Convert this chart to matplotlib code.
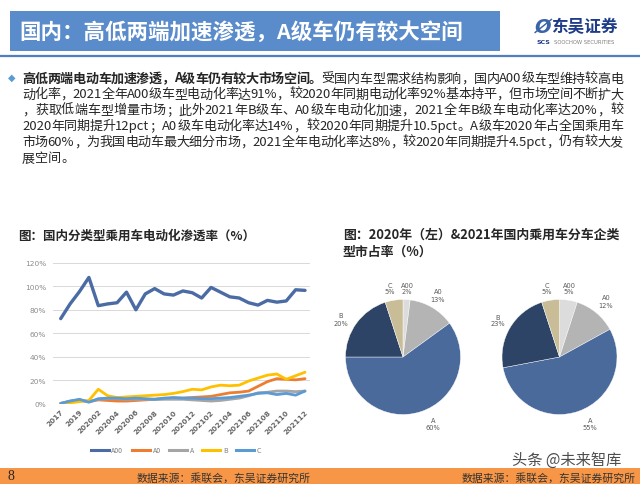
import matplotlib
matplotlib.use('Agg')
import matplotlib.pyplot as plt
from matplotlib.patches import Rectangle
from matplotlib.lines import Line2D

plt.rcParams['font.family'] = ['Noto Sans CJK SC', 'DejaVu Sans']

# ---------------- data ----------------
categories = ['2017', '2018', '2019',
              '202001', '202002', '202003', '202004', '202005', '202006',
              '202007', '202008', '202009', '202010', '202011', '202012',
              '202101', '202102', '202103', '202104', '202105', '202106',
              '202107', '202108', '202109', '202110', '202111', '202112']
series_names = ['A00', 'A0', 'A', 'B', 'C']
a00 = [72.5, 85, 95.5, 107.5, 83.5, 85, 86, 95, 80, 93.5, 98, 93.5, 92.5, 96,
       94.5, 90, 99, 95, 91, 90, 86, 84, 88, 86.5, 87.5, 97, 96.5]
a0 = [0.5, 2, 3, 2, 3.5, 3, 2.5, 2.5, 3, 3.5, 4, 4.5, 5, 5, 5.5, 6, 6.5, 8,
      9.5, 10, 11, 15, 19, 21.5, 21, 20.5, 21.5]
a_cls = [0.5, 2.5, 3.5, 2, 4, 4.5, 4.5, 4, 4, 4, 4, 4, 4, 4, 3.5, 3, 2.5, 3,
         4, 5, 7, 9.5, 10, 11, 11, 10.5, 11]
b_cls = [0.5, 1, 2, 3, 12.5, 7, 5.5, 6, 6.5, 7, 7.5, 8, 9, 10.5, 12.5, 12,
         14.5, 16, 15.5, 16, 19.5, 22, 24.5, 25.5, 21, 24, 27]
c_cls = [0.5, 2.5, 4, 1.5, 4.5, 5, 5, 4.5, 5, 4.5, 4, 5, 5.5, 5, 5, 4.5, 4.5,
         5, 5.5, 6.5, 7.5, 9, 9.5, 8, 9, 7.5, 11]
yticks = [0, 20, 40, 60, 80, 100, 120]

pie_labels = ['A00', 'A0', 'A', 'B', 'C']
share_2020 = [2, 13, 60, 20, 5]
share_2021 = [5, 12, 55, 23, 5]

title = '国内：高低两端加速渗透，A级车仍有较大空间'
body_bold = '高低两端电动车加速渗透，A级车仍有较大市场空间。'
body_lines = [
    '受国内车型需求结构影响，国内A00级车型维持较高电',
    '动化率，2021全年A00级车型电动化率达91%，较2020年同期电动化率92%基本持平，但市场空间不断扩大',
    '，获取低端车型增量市场；此外2021年B级车、A0级车电动化加速，2021全年B级车电动化率达20%，较',
    '2020年同期提升12pct；A0级车电动化率达14%，较2020年同期提升10.5pct。A级车2020年占全国乘用车',
    '市场60%，为我国电动车最大细分市场，2021全年电动化率达8%，较2020年同期提升4.5pct，仍有较大发',
    '展空间。',
]
chart1_title = '图：国内分类型乘用车电动化渗透率（%）'
chart2_title = ['图：2020年（左）&2021年国内乘用车分车企类', '型市占率（%）']
source = '数据来源：乘联会，东吴证券研究所'

# ---------------- styles ----------------
line_colors = ['#4A6BA3', '#ED7D31', '#A5A5A5', '#FFC000', '#5B9BD5']
pie_colors = ['#DCDCDC', '#B4B4B4', '#4A6A9C', '#2D4467', '#C9BD98']

W, H = 640, 485
fig = plt.figure(figsize=(6.4, 4.85), dpi=100)
ax0 = fig.add_axes([0, 0, 1, 1])
ax0.set_xlim(0, W)
ax0.set_ylim(0, H)
ax0.axis('off')


def Y(y):
    return H - y


def T(x, y, s, **kw):
    return ax0.text(x, Y(y), s, **kw)


# header
ax0.add_patch(Rectangle((10, Y(52)), 490, 40, color='#5A8BCB', lw=0))
T(19, 32, title, color='white', fontsize=15.5, weight='bold', va='center', ha='left')
ax0.plot([0, W], [Y(56.5), Y(56.5)], color='#4F7FC0', lw=1.6)
# logo
T(543, 28, 'Ø', color='#3A63A8', fontsize=14, weight='bold', style='italic',
  ha='center', va='center', family='DejaVu Sans')
T(584, 27, '东吴证券', color='#1F3C88', fontsize=12, weight='bold', ha='center', va='center')
T(543, 43, 'SCS', color='#1F3C88', fontsize=4.5, weight='bold', ha='center', va='center',
  family='DejaVu Sans')
T(584, 43, 'SOOCHOW SECURITIES', color='#7F7F7F', fontsize=3.8, ha='center', va='center',
  family='DejaVu Sans')

# bullet body text (justified)
T(12, 78, '◆', color='#5B9BD5', fontsize=7, ha='center', va='center', family='DejaVu Sans')
renderer = fig.canvas.get_renderer()
fs_body = 9.4
_cache = {}


def wid(s, weight):
    key = (s, weight)
    if key not in _cache:
        t = fig.text(0, 0, s, fontsize=fs_body, weight=weight)
        _cache[key] = t.get_window_extent(renderer).width
        t.remove()
    return _cache[key]


def tokens(s, weight):
    out = []
    buf = ''
    for ch in s:
        if ord(ch) < 128:
            buf += ch
        else:
            if buf:
                out.append((buf, weight))
                buf = ''
            out.append((ch, weight))
    if buf:
        out.append((buf, weight))
    return out


def metrics(tok, weight):
    adv = wid('中' + tok + '中', weight) - wid('中中', weight)
    lsb = wid('中' + tok, weight) - wid('中中', weight) + wid('中', weight) - wid(tok, weight)
    return adv, max(lsb, 0)


x_left, x_right = 22, 623
line_y0, line_dy = 82.5, 15.9
for i, ln in enumerate(body_lines):
    toks = []
    if i == 0:
        toks += tokens(body_bold, 'bold')
    toks += tokens(ln, 'normal')
    ms = [metrics(t, w) for t, w in toks]
    total = sum(m[0] for m in ms)
    justify = i < len(body_lines) - 1
    gap = (x_right - x_left - total) / (len(toks) - 1) if justify else 0
    px = x_left
    yb = line_y0 + i * line_dy
    for (tok, w), (adv, lsb) in zip(toks, ms):
        T(px + lsb, yb, tok, fontsize=fs_body, weight=w, color='#262626',
          ha='left', va='baseline')
        px += adv + gap

# chart titles
T(18, 236, chart1_title, fontsize=9, weight='bold', color='#262626', va='center')
T(343, 235, chart2_title[0], fontsize=9.3, weight='bold', color='#262626', va='center')
T(343, 252, chart2_title[1], fontsize=9.3, weight='bold', color='#262626', va='center')

# ---------------- line chart ----------------
ax = fig.add_axes([53 / W, (H - 405) / H, (310 - 53) / W, (405 - 263.7) / H])
xs = list(range(len(categories)))
for vals, name, col, lw in zip([a00, a0, a_cls, b_cls, c_cls], series_names, line_colors,
                               [2.4, 2.0, 2.0, 2.0, 2.0]):
    ax.plot(xs, vals, color=col, lw=lw, label=name, solid_capstyle='round',
            solid_joinstyle='round')
ax.set_ylim(0, 120)
ax.set_xlim(-0.82, 26.53)
ax.set_yticks(yticks)
ax.set_yticklabels([f'{v}%' for v in yticks], fontsize=5.3, color='#8C8C8C',
                   family='DejaVu Sans')
ax.set_xticks(xs[::2])
ax.set_xticklabels(categories[::2], rotation=45, ha='right', rotation_mode='anchor',
                   fontsize=5.3, color='#666666', weight='bold', family='DejaVu Sans')
ax.tick_params(axis='both', length=0, pad=3)
ax.tick_params(axis='y', pad=5)
ax.grid(axis='y', color='#D9D9D9', lw=0.7)
ax.set_axisbelow(True)
for sp in ax.spines.values():
    sp.set_visible(False)
ax.patch.set_alpha(0)
handles = [Line2D([0], [0], color=c, lw=2.2) for c in line_colors]
fig.legend(handles, series_names, loc='center', bbox_to_anchor=(176 / W, 1 - 451 / H),
           ncol=5, frameon=False, fontsize=5, handlelength=2.6, columnspacing=1.2,
           handletextpad=0.4, labelcolor='#7F7F7F')

# ---------------- pies ----------------
for vals, cx in [(share_2020, 403), (share_2021, 559.5)]:
    ax0.pie(vals, colors=pie_colors, startangle=90, counterclock=False,
            center=(cx, Y(358)), radius=57.5, frame=True,
            wedgeprops=dict(edgecolor='white', linewidth=0.3))
ax0.set_xlim(0, W)
ax0.set_ylim(0, H)
ax0.set_aspect('auto')
ax0.axis('off')

lab_pos_2020 = [(407, 289), (438, 296), (433, 425), (341, 320), (390, 289)]
lab_pos_2021 = [(569, 289), (606, 302), (590, 425), (498, 321), (547, 289)]
for vals, poss in [(share_2020, lab_pos_2020), (share_2021, lab_pos_2021)]:
    for name, v, (lx, ly) in zip(pie_labels, vals, poss):
        T(lx, ly, f'{name}\n{v}%', fontsize=4.8, color='#595959', ha='center', va='center',
          linespacing=1.2, family='DejaVu Sans')

# ---------------- footer ----------------
ax0.add_patch(Rectangle((0, 0), W, 16, color='#F79646', lw=0))
T(7, 477, '8', fontsize=10, family='Liberation Serif', color='#262626', va='center')
T(137, 478, source, fontsize=7.8, color='#333333', va='center')
T(462, 478, source, fontsize=7.8, color='#333333', va='center')
T(512, 460, '头条 @未来智库', fontsize=11, color='#4D4D4D', va='center')

fig.savefig('out.png', dpi=100)
